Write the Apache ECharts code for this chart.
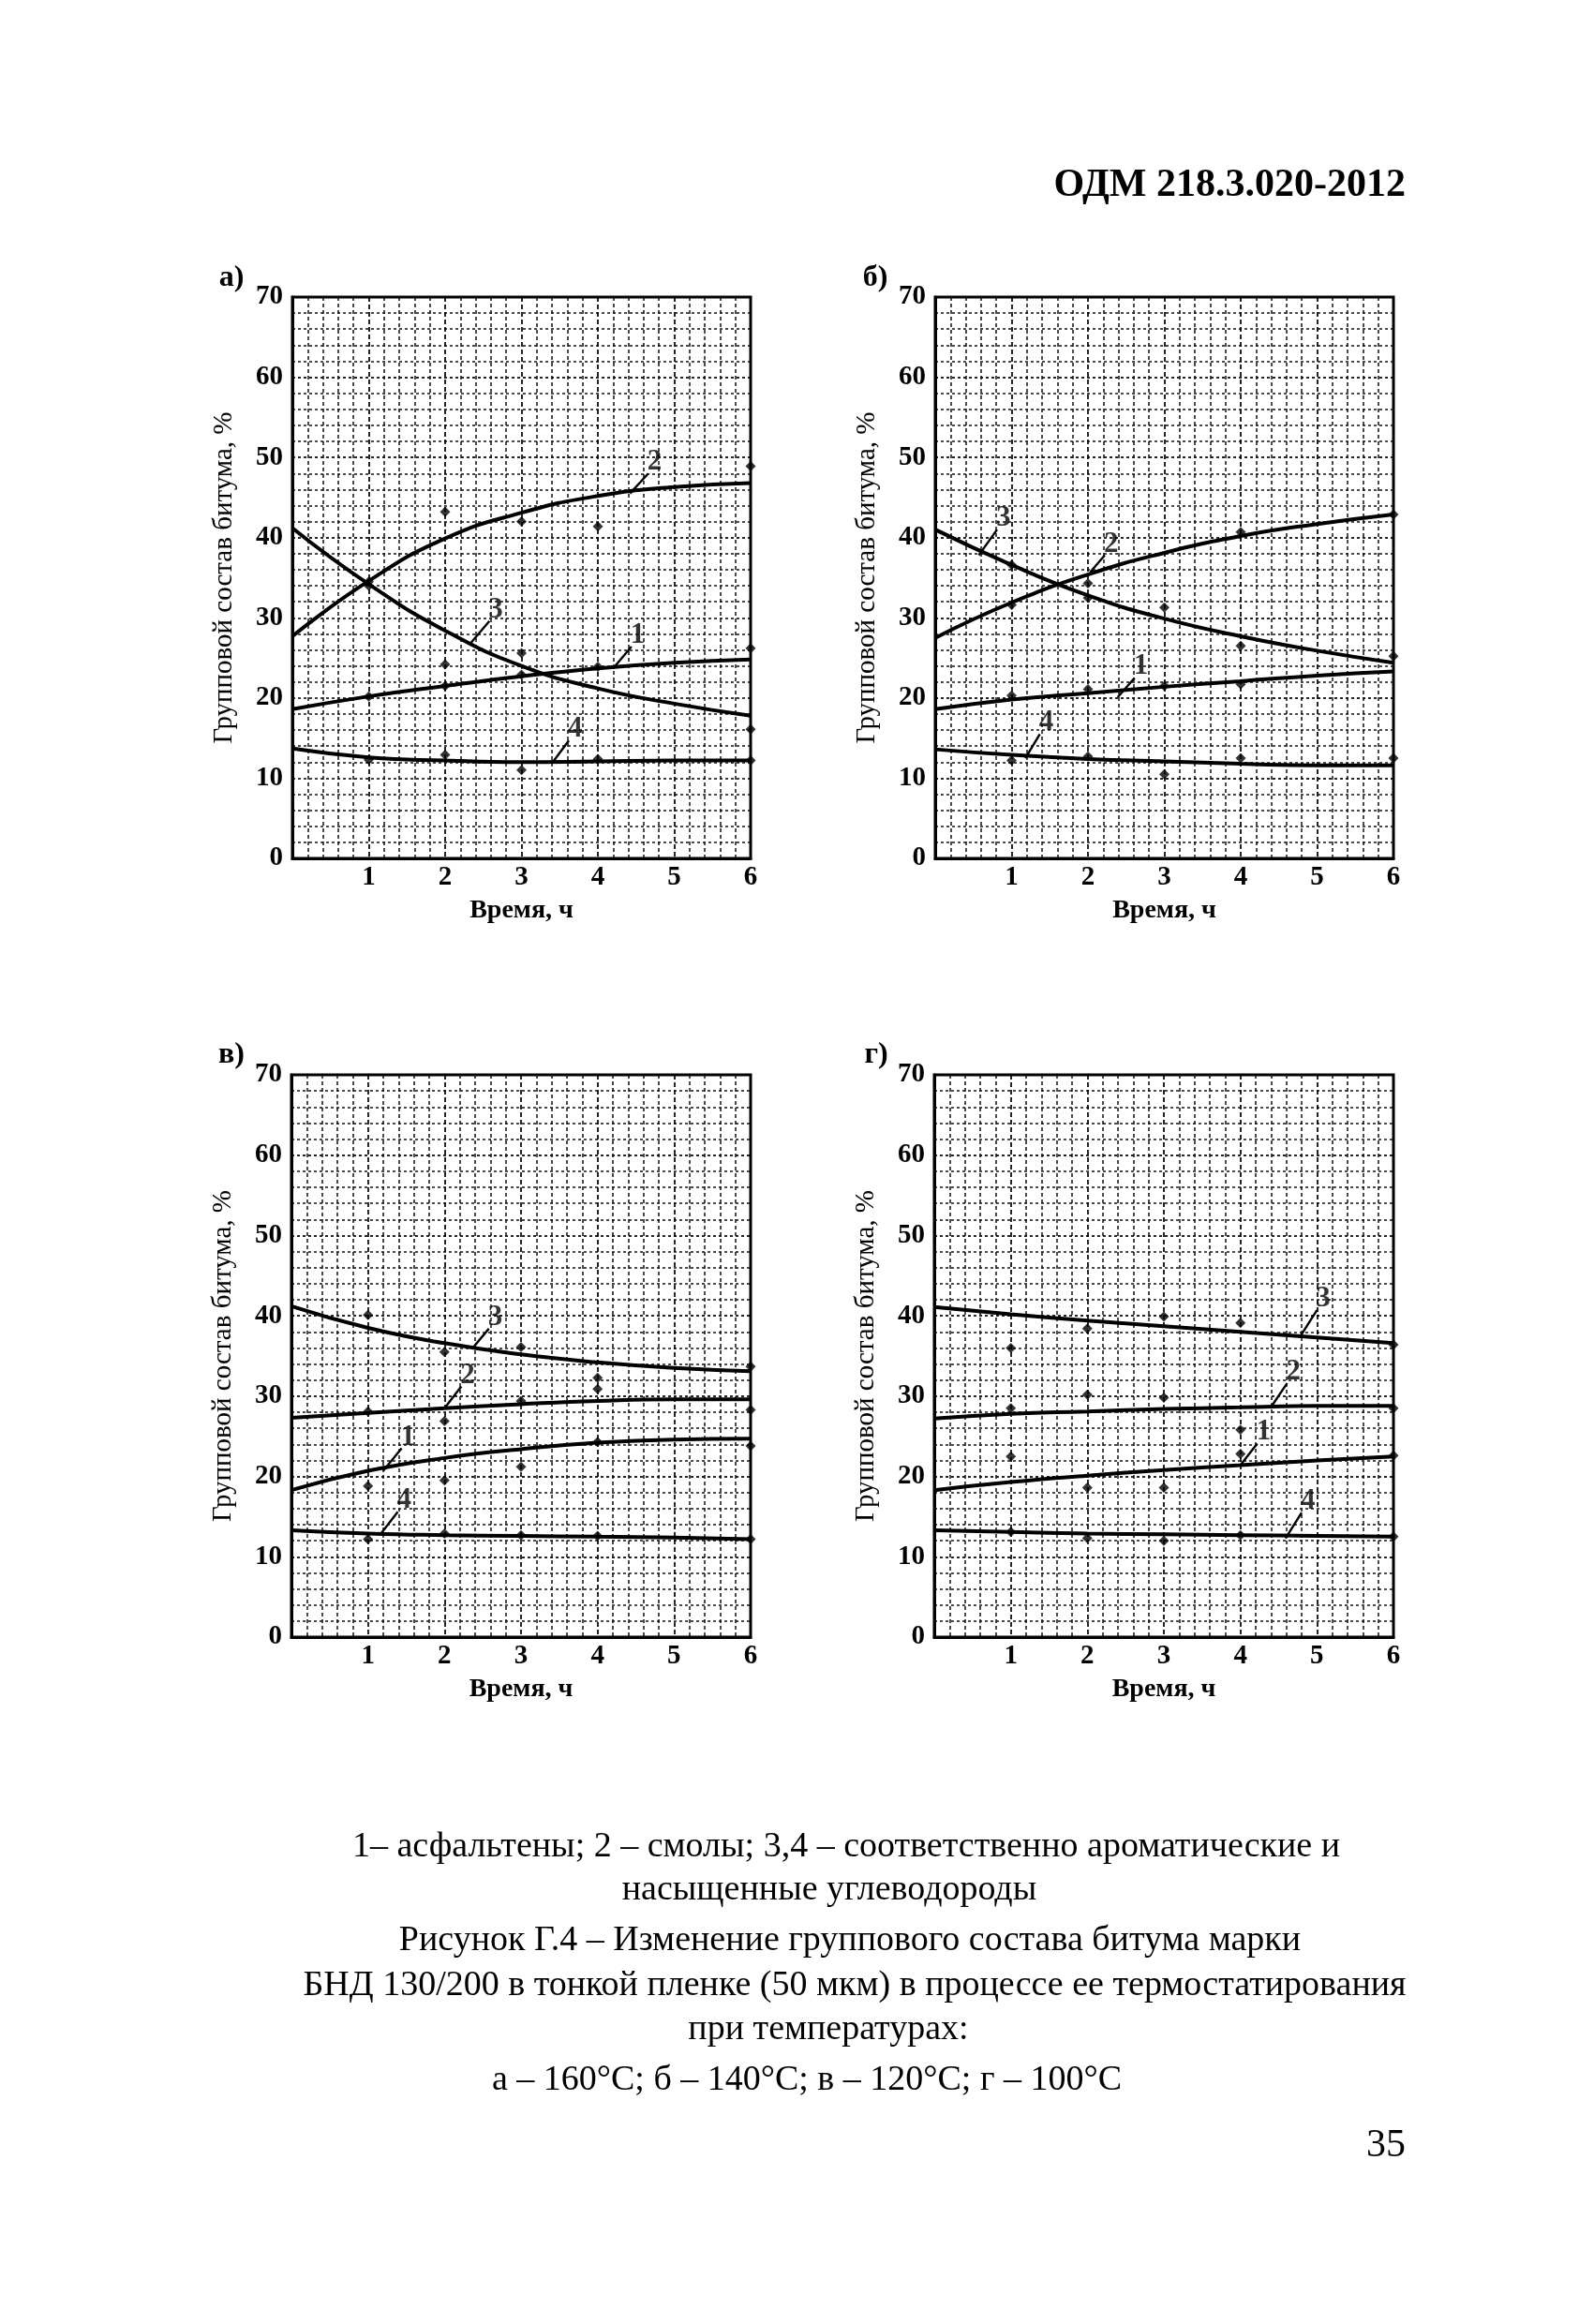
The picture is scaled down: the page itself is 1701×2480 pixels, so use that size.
<!DOCTYPE html>
<html><head><meta charset="utf-8">
<script src="https://cdn.jsdelivr.net/npm/echarts@6/dist/echarts.min.js"></script>
<style>html,body{margin:0;padding:0;background:#fff}#c{width:1701px;height:2480px}</style>
</head><body><div id="c"></div>
<script>
// ---------- data ----------
const hours = [0, 1, 2, 3, 4, 5, 6];
const sampleHours = [1, 2, 3, 4, 6];
const panelLetters = ['а)', 'б)', 'в)', 'г)'];
const curveNames = ['1', '2', '3', '4'];
const xTickLabels = ['', '1', '2', '3', '4', '5', '6'];
const yTickLabels = ['0', '10', '20', '30', '40', '50', '60', '70'];
const xAxisTitle = 'Время, ч';
const yAxisTitle = 'Групповой состав битума, %';

// panel а – 160 °C : fitted curves (1 asphaltenes, 2 resins, 3 aromatics, 4 saturates)
const a_curve1 = [18.6, 20.2, 21.5, 22.7, 23.7, 24.4, 24.8];
const a_curve2 = [27.7, 34.6, 39.9, 43.1, 45.2, 46.3, 46.8];
const a_curve3 = [41.2, 34.2, 28.4, 24.0, 21.2, 19.3, 17.8];
const a_curve4 = [13.7, 12.6, 12.2, 12.0, 12.1, 12.2, 12.2];
// panel а measured points at sampleHours
const a_pts1 = [20.2, 21.5, 22.9, 23.9, 26.2];
const a_pts2 = [34.5, 43.2, 42.0, 41.4, 48.9];
const a_pts3 = [34.0, 24.2, 25.6, null, 16.1];
const a_pts4 = [12.3, 12.9, 11.0, 12.4, 12.2];

// panel б – 140 °C
const b_curve1 = [18.6, 19.8, 20.6, 21.4, 22.1, 22.8, 23.3];
const b_curve2 = [27.5, 31.9, 35.4, 38.1, 40.2, 41.7, 42.9];
const b_curve3 = [41.0, 36.6, 32.8, 29.9, 27.7, 25.9, 24.4];
const b_curve4 = [13.6, 12.9, 12.4, 12.1, 11.8, 11.6, 11.6];
const b_pts1 = [20.3, 21.1, 21.5, 21.7, null];
const b_pts2 = [31.6, 34.3, null, 40.7, 42.9];
const b_pts3 = [36.6, 32.5, 31.3, 26.5, 25.2];
const b_pts4 = [12.2, 12.7, 10.5, 12.5, 12.5];

// panel в – 120 °C
const v_curve1 = [18.3, 20.7, 22.3, 23.4, 24.2, 24.6, 24.7];
const v_curve2 = [27.3, 27.9, 28.5, 29.0, 29.4, 29.6, 29.6];
const v_curve3 = [41.2, 38.5, 36.6, 35.2, 34.2, 33.5, 33.1];
const v_curve4 = [13.3, 12.9, 12.7, 12.6, 12.5, 12.4, 12.2];
const v_pts1 = [18.8, 19.5, 21.2, 24.3, 23.8];
const v_pts2 = [28.1, 26.9, 29.4, 30.9, 28.3];
const v_pts3 = [40.1, 35.5, 36.1, 32.3, 33.7];
const v_pts4 = [12.2, 12.9, 12.7, 12.6, 12.2];

// panel г – 100 °C
const g_curve1 = [18.3, 19.3, 20.1, 20.8, 21.4, 22.0, 22.5];
const g_curve2 = [27.2, 27.8, 28.1, 28.4, 28.6, 28.8, 28.8];
const g_curve3 = [41.1, 40.2, 39.4, 38.7, 38.0, 37.3, 36.6];
const g_curve4 = [13.3, 13.1, 12.9, 12.8, 12.7, 12.6, 12.5];
const g_pts1 = [22.5, 18.6, 18.6, 22.8, 22.6];
const g_pts2 = [28.5, 30.2, 29.8, 25.8, 28.5];
const g_pts3 = [36.0, 38.4, 39.9, 39.1, 36.4];
const g_pts4 = [13.1, 12.3, 12.0, 12.7, 12.5];

// curve-number callouts: leader from [h,%] on curve to [h,%] where number sits
const a_callouts = [[4.20, 23.7, 4.44, 26.4], [4.42, 45.5, 4.66, 48.0], [2.34, 26.9, 2.58, 29.6], [3.41, 12.0, 3.62, 14.7]];
const b_callouts = [[2.39, 20.1, 2.61, 22.5], [2.03, 35.7, 2.22, 37.8], [0.57, 37.8, 0.81, 41.0], [1.18, 12.5, 1.37, 15.5]];
const v_callouts = [[1.20, 20.7, 1.44, 23.5], [2.00, 28.5, 2.22, 31.2], [2.36, 35.9, 2.58, 38.4], [1.17, 12.9, 1.39, 15.6]];
const g_callouts = [[4.00, 21.4, 4.22, 24.1], [4.39, 28.5, 4.61, 31.6], [4.78, 37.4, 5.00, 40.7], [4.59, 12.3, 4.80, 15.5]];

const headerText = 'ОДМ 218.3.020-2012';
const pageNumber = '35';
const captionLines = [
  '1– асфальтены; 2 – смолы; 3,4 – соответственно ароматические и',
  'насыщенные углеводороды',
  'Рисунок Г.4 – Изменение группового состава битума марки',
  'БНД 130/200 в тонкой пленке (50 мкм) в процессе ее термостатирования',
  'при температурах:',
  'а – 160°С; б – 140°С; в – 120°С; г – 100°С'
];

// ---------- layout / style ----------
const SERIF = '"Liberation Serif", "DejaVu Serif", serif';
const panels = [
  {curves: [a_curve1, a_curve2, a_curve3, a_curve4], pts: [a_pts1, a_pts2, a_pts3, a_pts4], callouts: a_callouts},
  {curves: [b_curve1, b_curve2, b_curve3, b_curve4], pts: [b_pts1, b_pts2, b_pts3, b_pts4], callouts: b_callouts},
  {curves: [v_curve1, v_curve2, v_curve3, v_curve4], pts: [v_pts1, v_pts2, v_pts3, v_pts4], callouts: v_callouts},
  {curves: [g_curve1, g_curve2, g_curve3, g_curve4], pts: [g_pts1, g_pts2, g_pts3, g_pts4], callouts: g_callouts}
];
const gridBoxes = [
  {left: 312, top: 317, width: 489, height: 599},
  {left: 998, top: 317, width: 489, height: 599},
  {left: 311, top: 1147, width: 490, height: 600},
  {left: 997, top: 1147, width: 490, height: 600}
];
const letterPos = [[247, 297], [934, 297], [247, 1126], [935, 1126]];
const captionPos = [[903, 1971], [885, 2017], [907, 2071], [912, 2119], [884, 2166], [861, 2220]];

const grid = [], xAxis = [], yAxis = [], series = [];
panels.forEach((p, i) => {
  grid.push(Object.assign({show: true, borderColor: '#000', borderWidth: 3, backgroundColor: 'transparent', containLabel: false}, gridBoxes[i]));
  xAxis.push({
    type: 'value', gridIndex: i, min: 0, max: 6, interval: 1,
    name: xAxisTitle, nameLocation: 'middle', nameGap: 42,
    nameTextStyle: {fontFamily: SERIF, fontSize: 28, fontWeight: 'bold', color: '#000'},
    axisLine: {show: true, onZero: false, lineStyle: {color: '#000', width: 3}},
    axisTick: {show: false},
    minorTick: {show: false, splitNumber: 5},
    axisLabel: {fontFamily: SERIF, fontSize: 29, fontWeight: 'bold', color: '#000', margin: 6,
      formatter: v => xTickLabels[Math.round(v)] || ''},
    splitLine: {show: true, lineStyle: {color: '#000', width: 1.7, type: [5, 3]}},
    minorSplitLine: {show: true, lineStyle: {color: '#111', width: 1.5, type: [4, 3]}}
  });
  yAxis.push({
    type: 'value', gridIndex: i, min: 0, max: 70, interval: 10,
    name: yAxisTitle, nameLocation: 'middle', nameGap: 58,
    nameTextStyle: {fontFamily: SERIF, fontSize: 29, color: '#000'},
    axisLine: {show: true, onZero: false, lineStyle: {color: '#000', width: 3}},
    axisTick: {show: false},
    minorTick: {show: false, splitNumber: 5},
    axisLabel: {fontFamily: SERIF, fontSize: 29, fontWeight: 'bold', color: '#000', margin: 10,
      formatter: v => yTickLabels[Math.round(v / 10)] || ''},
    splitLine: {show: true, lineStyle: {color: '#000', width: 1.7, type: [3, 3]}},
    minorSplitLine: {show: true, lineStyle: {color: '#111', width: 1.5, type: [3, 3]}}
  });
  p.curves.forEach((c, k) => {
    const co = p.callouts[k];
    series.push({
      type: 'line', xAxisIndex: i, yAxisIndex: i, name: curveNames[k],
      data: hours.map((h, j) => [h, c[j]]),
      smooth: 0.5, showSymbol: false, symbol: 'none',
      lineStyle: {color: '#000', width: 4}, z: 5, animation: false,
      markLine: {silent: true, symbol: ['none', 'none'], animation: false,
        lineStyle: {color: '#000', width: 2.4, type: 'solid'}, label: {show: false},
        emphasis: {disabled: true},
        data: [[{coord: [co[0], co[1]]}, {coord: [co[2], co[3]]}]]}
    });
    series.push({
      type: 'scatter', xAxisIndex: i, yAxisIndex: i, symbol: 'diamond', symbolSize: 11,
      itemStyle: {color: '#000'}, z: 6, animation: false,
      data: sampleHours.map((h, j) => [h, p.pts[k][j]]).filter(d => d[1] != null)
    });
    series.push({
      type: 'scatter', xAxisIndex: i, yAxisIndex: i, symbolSize: 0, z: 7, animation: false,
      data: [[co[2], co[3], curveNames[k]]],
      label: {show: true, position: 'right', distance: 0, offset: [-1, -12],
        formatter: d => d.data[2], fontFamily: SERIF, fontSize: 31, fontWeight: 'bold', color: '#000'}
    });
  });
});

const graphic = [
  {type: 'text', x: 1500, y: 198, style: {text: headerText, font: 'bold 42px ' + SERIF, fill: '#000', align: 'right', verticalAlign: 'middle'}},
  {type: 'text', x: 1500, y: 2290, style: {text: pageNumber, font: '42px ' + SERIF, fill: '#000', align: 'right', verticalAlign: 'middle'}}
];
panelLetters.forEach((t, i) => graphic.push({type: 'text', x: letterPos[i][0], y: letterPos[i][1],
  style: {text: t, font: 'bold 32px ' + SERIF, fill: '#000', align: 'center', verticalAlign: 'middle'}}));
captionLines.forEach((t, i) => graphic.push({type: 'text', x: captionPos[i][0], y: captionPos[i][1],
  style: {text: t, font: '38px ' + SERIF, fill: '#000', align: 'center', verticalAlign: 'middle'}}));

const chart = echarts.init(document.getElementById('c'), null, {renderer: 'canvas'});
chart.setOption({
  backgroundColor: '#fff', animation: false,
  textStyle: {fontFamily: SERIF},
  grid, xAxis, yAxis, series, graphic
});
</script></body></html>
